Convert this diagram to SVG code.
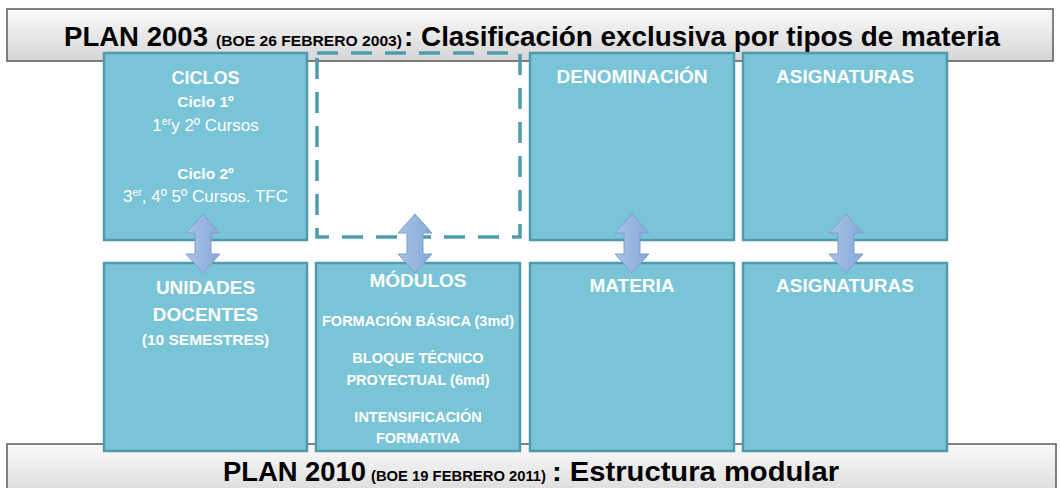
<svg xmlns="http://www.w3.org/2000/svg" width="1060" height="488" viewBox="0 0 1060 488">
<defs>
<linearGradient id="ban" x1="0" y1="0" x2="0" y2="1">
<stop offset="0" stop-color="#FAFAFA"/>
<stop offset="1" stop-color="#D6D6D6"/>
</linearGradient>
<linearGradient id="arr" x1="0" y1="0" x2="1" y2="0">
<stop offset="0" stop-color="#A9C3E6"/>
<stop offset="1" stop-color="#86A8D8"/>
</linearGradient>
<style>
.ban{fill:url(#ban);stroke:#5A5A5A;stroke-width:1.5}
.box{fill:#7AC4D8;stroke:#4F9AAD;stroke-width:2.5}
.dash{fill:none;stroke:#4F9AAD;stroke-width:3.5;stroke-dasharray:21 13}
.arr{fill:url(#arr);stroke:#7C9ECF;stroke-width:1}
.t{font-family:"Liberation Sans",Arial,sans-serif;font-weight:bold;fill:#000}
.w{font-family:"Liberation Sans",Arial,sans-serif;fill:#FFFFFF;text-anchor:middle}
.b{font-weight:bold}
</style>
</defs>
<g id="banner-top">
<rect class="ban" x="7" y="9" width="1046" height="52"/>
<text class="t" x="64" y="46" font-size="27" textLength="144" lengthAdjust="spacingAndGlyphs">PLAN 2003</text>
<text class="t" x="216" y="46" font-size="14" textLength="186" lengthAdjust="spacingAndGlyphs">(BOE 26 FEBRERO 2003)</text>
<text class="t" x="404" y="46" font-size="27" textLength="596" lengthAdjust="spacingAndGlyphs">: Clasificación exclusiva por tipos de materia</text>
</g>
<g id="banner-bottom">
<rect class="ban" x="7" y="444" width="1049" height="60"/>
<text class="t" x="223" y="481" font-size="27" textLength="143" lengthAdjust="spacingAndGlyphs">PLAN 2010</text>
<text class="t" x="371" y="481" font-size="14" textLength="175" lengthAdjust="spacingAndGlyphs">(BOE 19 FEBRERO 2011)</text>
<text class="t" x="552" y="481" font-size="27" textLength="287" lengthAdjust="spacingAndGlyphs">: Estructura modular</text>
</g>
<g id="ciclos">
<rect class="box" x="104" y="53" width="203" height="187"/>
<text class="w b" x="205.5" y="84" font-size="18">CICLOS</text>
<text class="w b" x="205.5" y="107" font-size="15.5">Ciclo 1º</text>
<text class="w" x="205.5" y="131" font-size="17">1<tspan font-size="10.5" dy="-6">er</tspan><tspan dy="6">y 2º Cursos</tspan></text>
<text class="w b" x="205.5" y="179" font-size="15.5">Ciclo 2º</text>
<text class="w" x="205.5" y="202" font-size="17">3<tspan font-size="10.5" dy="-6">er</tspan><tspan dy="6">, 4º 5º Cursos. TFC</tspan></text>
</g>
<g id="vacio">
<rect class="dash" x="317" y="53" width="203" height="184"/>
</g>
<g id="denominacion">
<rect class="box" x="530" y="53" width="204" height="187"/>
<text class="w b" x="632" y="83" font-size="19">DENOMINACIÓN</text>
</g>
<g id="asignaturas-2003">
<rect class="box" x="743" y="53" width="204" height="187"/>
<text class="w b" x="845" y="83" font-size="19">ASIGNATURAS</text>
</g>
<g id="unidades">
<rect class="box" x="104" y="263" width="203" height="188"/>
<text class="w b" x="205.5" y="294" font-size="19">UNIDADES</text>
<text class="w b" x="205.5" y="321" font-size="19">DOCENTES</text>
<text class="w b" x="205.5" y="345" font-size="15.5">(10 SEMESTRES)</text>
</g>
<g id="modulos">
<rect class="box" x="316" y="263" width="204" height="188"/>
<text class="w b" x="418" y="287" font-size="19">MÓDULOS</text>
<text class="w b" x="418" y="326" font-size="14.5">FORMACIÓN BÁSICA (3md)</text>
<text class="w b" x="418" y="363" font-size="14.5">BLOQUE TÉCNICO</text>
<text class="w b" x="418" y="385" font-size="14.5">PROYECTUAL (6md)</text>
<text class="w b" x="418" y="422" font-size="14.5">INTENSIFICACIÓN</text>
<text class="w b" x="418" y="443" font-size="14.5">FORMATIVA</text>
</g>
<g id="materia">
<rect class="box" x="530" y="263" width="204" height="188"/>
<text class="w b" x="632" y="292" font-size="19">MATERIA</text>
</g>
<g id="asignaturas-2010">
<rect class="box" x="743" y="263" width="204" height="188"/>
<text class="w b" x="845" y="292" font-size="19">ASIGNATURAS</text>
</g>
<g id="connectors">
<path class="arr" d="M203,214 L220,233 L211,233 L211,254 L220,254 L203,273 L186,254 L195,254 L195,233 L186,233 Z"/>
<path class="arr" d="M415,214 L432,233 L423,233 L423,254 L432,254 L415,273 L398,254 L407,254 L407,233 L398,233 Z"/>
<path class="arr" d="M632,214 L649,233 L640,233 L640,254 L649,254 L632,273 L615,254 L624,254 L624,233 L615,233 Z"/>
<path class="arr" d="M846,214 L863,233 L854,233 L854,254 L863,254 L846,273 L829,254 L838,254 L838,233 L829,233 Z"/>
</g>
</svg>
